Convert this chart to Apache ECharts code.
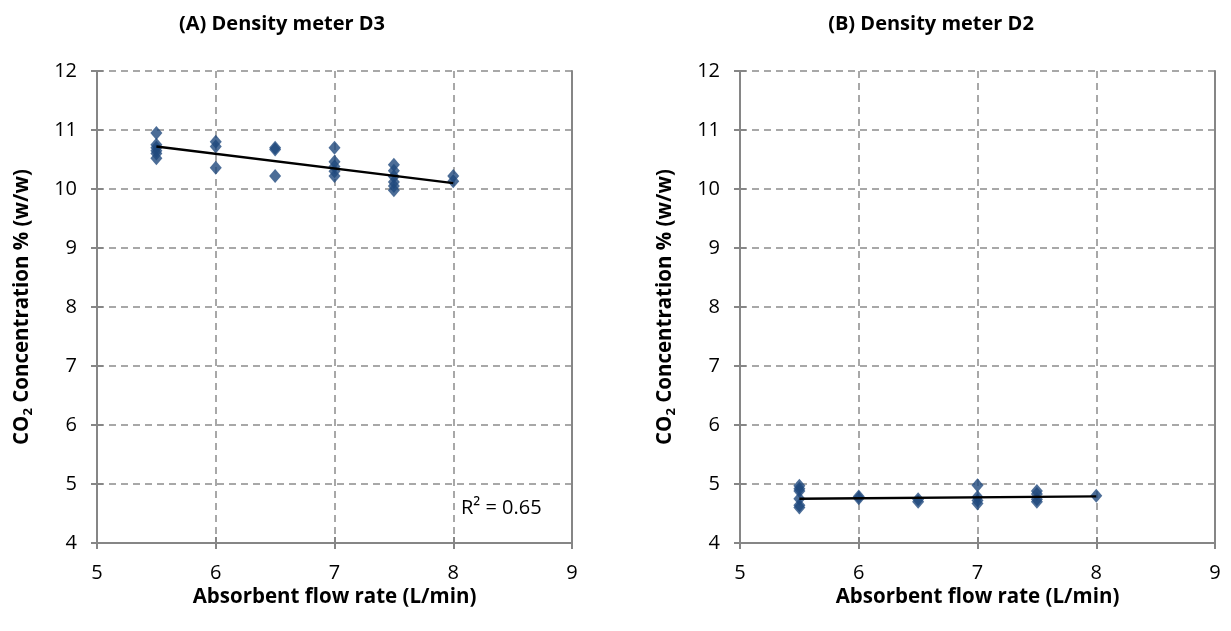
<!DOCTYPE html>
<html><head><meta charset="utf-8">
<script src="https://cdn.jsdelivr.net/npm/echarts@6/dist/echarts.min.js"></script>
<style>html,body{margin:0;padding:0;background:#fff}#c{width:1231px;height:631px}</style>
</head><body><div id="c"></div>
<script>
const titles = ['(A) Density meter D3', '(B) Density meter D2'];
const xName = 'Absorbent flow rate (L/min)';
const r2Label = 'R² = 0.65';
// Density meter D3 measurements [flow, CO2 %]
const d3Points = [
  [5.5,10.95],[5.5,10.75],[5.5,10.7],[5.5,10.65],[5.5,10.6],[5.5,10.52],
  [6,10.8],[6,10.72],[6,10.36],
  [6.5,10.7],[6.5,10.67],[6.5,10.22],
  [7,10.7],[7,10.46],[7,10.38],[7,10.3],[7,10.22],
  [7.5,10.41],[7.5,10.31],[7.5,10.21],[7.5,10.12],[7.5,10.05],[7.5,9.98],
  [8,10.22],[8,10.13]
];
const d3Trend = [[5.5,10.72],[8,10.1]];
// Density meter D2 measurements
const d2Points = [
  [5.5,4.97],[5.5,4.92],[5.5,4.88],[5.5,4.75],[5.5,4.64],[5.5,4.6],
  [6,4.79],[6,4.76],
  [6.5,4.74],[6.5,4.7],
  [7,4.98],[7,4.78],[7,4.72],[7,4.67],
  [7.5,4.88],[7.5,4.83],[7.5,4.74],[7.5,4.7],
  [8,4.8]
];
const d2Trend = [[5.5,4.75],[8,4.79]];

const FONT = '"Open Sans", "Noto Sans", sans-serif';
const grids = [
  {left:97, top:71, width:475, height:472},
  {left:740, top:71, width:475, height:472}
];
const xAxes = [], yAxes = [];
grids.forEach((g,i)=>{
  xAxes.push({
    gridIndex:i, type:'value', min:5, max:9, interval:1,
    name:xName, nameLocation:'middle', nameGap:44, nameMoveOverlap:false,
    nameTextStyle:{fontFamily:FONT, fontWeight:'bold', fontSize:20.5, color:'#000'},
    axisLine:{lineStyle:{color:'#868686', width:2}},
    axisTick:{length:6, lineStyle:{color:'#868686', width:2}},
    axisLabel:{fontFamily:FONT, fontSize:20, color:'#000', margin:20},
    splitLine:{show:true, lineStyle:{color:'#8c8c8c', type:[7,5], width:1.5}}
  });
  xAxes.push({
    gridIndex:i, type:'value', min:5, max:9, interval:1, position:'bottom',
    axisLine:{show:false}, axisLabel:{show:false}, splitLine:{show:false},
    axisTick:{show:true, inside:true, length:6, lineStyle:{color:'#868686', width:2}}
  });
  yAxes.push({
    gridIndex:i, type:'value', min:4, max:12, interval:1,
    name:'{b|CO}{s|2}{b| Concentration % (w/w)}', nameLocation:'middle', nameGap:62, nameMoveOverlap:false,
    nameTextStyle:{rich:{
      b:{fontFamily:FONT, fontWeight:'bold', fontSize:20.5, color:'#000'},
      s:{fontFamily:FONT, fontWeight:'bold', fontSize:13, color:'#000', verticalAlign:'bottom', padding:[12,0,0,0]}
    }},
    axisLine:{show:true, lineStyle:{color:'#868686', width:2}},
    axisTick:{show:true, length:6, lineStyle:{color:'#868686', width:2}},
    axisLabel:{fontFamily:FONT, fontSize:20, color:'#000', margin:20},
    splitLine:{show:true, lineStyle:{color:'#8c8c8c', type:[7,5], width:1.5}}
  });
  yAxes.push({
    gridIndex:i, type:'value', min:4, max:12, interval:1, position:'left',
    axisLine:{show:false}, axisLabel:{show:false}, splitLine:{show:false},
    axisTick:{show:true, inside:true, length:6, lineStyle:{color:'#868686', width:2}}
  });
  yAxes.push({
    gridIndex:i, type:'value', min:4, max:12, interval:1, position:'right',
    axisLine:{show:true, lineStyle:{color:'#868686', width:2}},
    axisLabel:{show:false}, splitLine:{show:false}, axisTick:{show:false}
  });
});

const markerColor = '#1F497D';
function scatter(data, gi){
  return {type:'scatter', xAxisIndex:gi*2, yAxisIndex:gi*3, data:data,
    symbol:'diamond', symbolSize:[12,14], itemStyle:{color:markerColor}, z:3};
}
function trend(data, gi){
  return {type:'line', xAxisIndex:gi*2, yAxisIndex:gi*3, data:data,
    symbol:'none', lineStyle:{color:'#000', width:2.4}, z:4};
}

const chart = echarts.init(document.getElementById('c'), null, {renderer:'canvas'});
chart.setOption({
  animation:false,
  backgroundColor:'#fff',
  title:[
    {text:titles[0], left:277, top:9, textAlign:'center', textStyle:{fontFamily:FONT, fontWeight:'bold', fontSize:20, color:'#000'}},
    {text:titles[1], left:926, top:9, textAlign:'center', textStyle:{fontFamily:FONT, fontWeight:'bold', fontSize:20, color:'#000'}}
  ],
  grid:grids,
  xAxis:xAxes,
  yAxis:yAxes,
  graphic:[{type:'text', left:461, top:498, style:{text:r2Label, fontFamily:FONT, fontSize:20, fill:'#000'}}],
  series:[scatter(d3Points,0), trend(d3Trend,0), scatter(d2Points,1), trend(d2Trend,1)]
});
</script></body></html>
